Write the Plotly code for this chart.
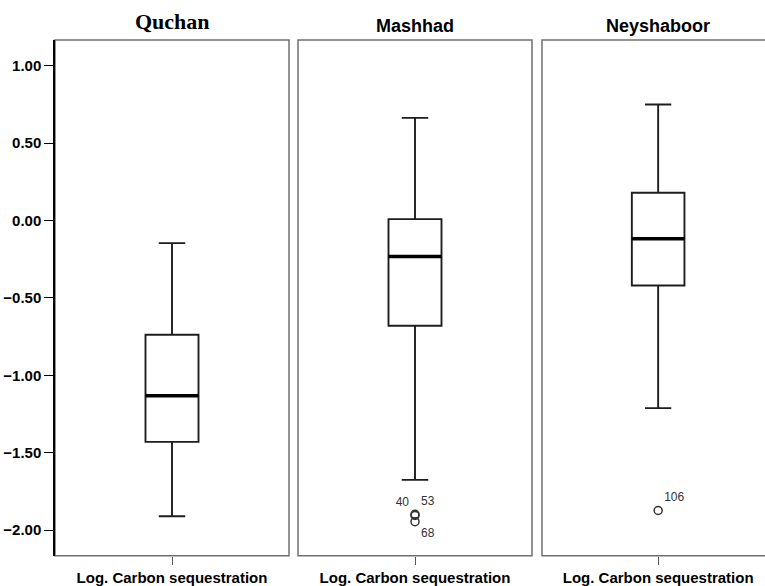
import plotly.graph_objects as go

# ---- data ----
regions = ["Quchan", "Mashhad", "Neyshaboor"]
x_label = "Log. Carbon sequestration"
q1 = [-1.430, -0.680, -0.420]
median = [-1.132, -0.233, -0.118]
q3 = [-0.738, 0.009, 0.179]
lower_whisker = [-1.910, -1.675, -1.212]
upper_whisker = [-0.146, 0.663, 0.749]
outlier_values = [[], [-1.905, -1.898, -1.945], [-1.873]]
outlier_ids = [[], ["40", "53", "68"], ["106"]]
outlier_textpos = [[], ["top left", "top right", "bottom right"], ["top right"]]
y_ticks = [-2.0, -1.5, -1.0, -0.5, 0.0, 0.5, 1.0]

# ---- layout geometry ----
W, H = 765, 586
panel_px = [(55, 289), (298, 532), (542, 765)]
top_px, bottom_px = 40, 555.7
x_ranges = [[-1, 1], [-1, 1], [-1, 0.92]]
y_range = [-2.165, 1.166]
box_w = 0.453
border_col = "#707070"

fig = go.Figure()

for i, name in enumerate(regions):
    k = "" if i == 0 else str(i + 1)
    xa, ya = "x" + k, "y" + k
    fig.add_trace(go.Box(
        x=[0], q1=[q1[i]], median=[median[i]], q3=[q3[i]],
        lowerfence=[lower_whisker[i]], upperfence=[upper_whisker[i]],
        width=box_w, whiskerwidth=0.5, boxpoints=False,
        fillcolor="white", line=dict(color="#1e1e1e", width=1.9),
        xaxis=xa, yaxis=ya, showlegend=False, hoverinfo="skip"))
    # thick median line
    fig.add_trace(go.Scatter(
        x=[-box_w / 2, box_w / 2], y=[median[i], median[i]], mode="lines",
        line=dict(color="black", width=3.5), xaxis=xa, yaxis=ya,
        showlegend=False, hoverinfo="skip"))
    if outlier_values[i]:
        fig.add_trace(go.Scatter(
            x=[0] * len(outlier_values[i]), y=outlier_values[i],
            mode="markers+text", text=outlier_ids[i],
            textposition=outlier_textpos[i],
            textfont=dict(family="Liberation Sans, Arial", size=12, color="#333333"),
            marker=dict(symbol="circle-open", size=8, color="#333333",
                        line=dict(width=1.5, color="#333333")),
            xaxis=xa, yaxis=ya, showlegend=False, hoverinfo="skip"))

layout = dict(
    width=W, height=H, margin=dict(l=0, r=0, t=0, b=0),
    paper_bgcolor="white", plot_bgcolor="white", showlegend=False,
)
ydom = [1 - bottom_px / H, 1 - top_px / H]
for i in range(3):
    k = "" if i == 0 else str(i + 1)
    x0, x1 = panel_px[i]
    layout["xaxis" + k] = dict(
        domain=[x0 / W, x1 / W], range=x_ranges[i], anchor="y" + k,
        tickvals=[0], ticktext=[x_label], ticks="outside", ticklen=8,
        tickcolor="#555555", tickwidth=1,
        tickfont=dict(family="Liberation Sans, Arial", size=15, color="black", weight="bold"),
        showgrid=False, zeroline=False, showline=False, fixedrange=True)
    ydict = dict(
        domain=ydom, range=y_range, anchor="x" + k,
        showgrid=False, zeroline=False, fixedrange=True)
    if i == 0:
        ydict.update(tickvals=y_ticks, tickformat=".2f", ticks="outside",
                     ticklen=9, tickcolor="black", tickwidth=1,
                     tickfont=dict(family="Liberation Sans, Arial", size=15,
                                   color="black", weight="bold"),
                     showline=True, linecolor="black", linewidth=1.5)
    else:
        ydict.update(showticklabels=False, ticks="", showline=False)
    layout["yaxis" + k] = ydict

fig.update_layout(**layout)

# panel borders
for i in range(3):
    k = "" if i == 0 else str(i + 1)
    fig.add_shape(type="rect", xref="x" + k + " domain", yref="y" + k + " domain",
                  x0=0, x1=1 if i < 2 else 1.1, y0=0, y1=1,
                  line=dict(color=border_col, width=1.5), layer="below")

# panel titles
title_fonts = [
    dict(family="Liberation Serif, Times New Roman", size=22, color="black", weight="bold"),
    dict(family="Liberation Sans, Arial", size=18, color="black", weight="bold"),
    dict(family="Liberation Sans, Arial", size=18, color="black", weight="bold"),
]
title_cx = [172, 415, 658]
title_bottom_px = [36, 38, 38]
for i, name in enumerate(regions):
    fig.add_annotation(text="<b>%s</b>" % name, x=title_cx[i] / W,
                       y=1 - title_bottom_px[i] / H,
                       xref="paper", yref="paper", xanchor="center", yanchor="bottom",
                       showarrow=False, font=title_fonts[i])

fig.write_html("out.html")
